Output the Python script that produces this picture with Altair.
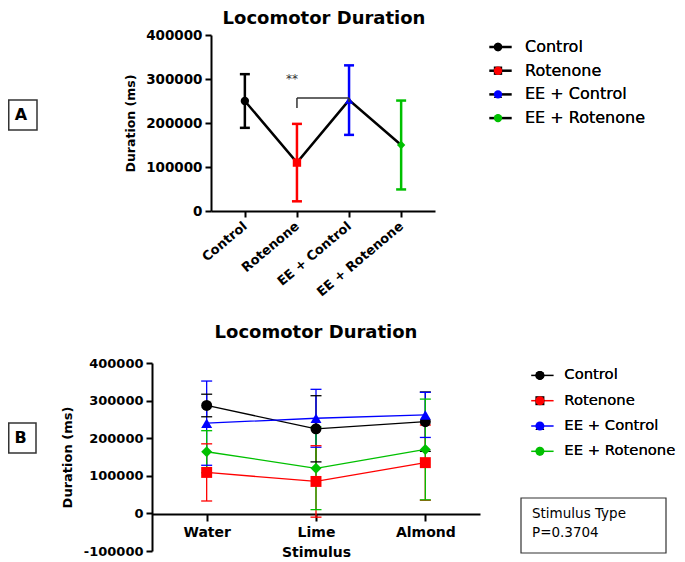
import altair as alt
import pandas as pd

FONT = "DejaVu Sans"

# ---------------- data ----------------
groups = ["Control", "Rotenone", "EE + Control", "EE + Rotenone"]
group_colors = ["#000000", "#ff0000", "#0000ff", "#00c000"]
group_shapes = ["circle", "square", "triangle-up", "diamond"]

# Panel A (overall)
a_mean = [250000, 110000, 252000, 150000]
a_low = [189000, 22000, 173000, 49000]
a_high = [311000, 198000, 331000, 251000]
a_point_size = [70, 70, 50, 40]

# significance bracket Rotenone vs EE + Control
sig_from = "Rotenone"
sig_to = "EE + Control"
sig_bar_y = 256800
sig_from_end = 234000
sig_to_end = 248000
sig_text = "**"
sig_text_y = 300000

# Panel B (by stimulus)
stimuli = ["Water", "Lime", "Almond"]
b_mean = {
    "Control": [287000, 225000, 244000],
    "Rotenone": [109000, 85000, 135000],
    "EE + Control": [240000, 253000, 262000],
    "EE + Rotenone": [164000, 120000, 170000],
}
b_low = {
    "Control": [257000, 137000, 165000],
    "Rotenone": [33000, -10000, 35000],
    "EE + Control": [128000, 176000, 202000],
    "EE + Rotenone": [108000, 10000, 36000],
}
b_high = {
    "Control": [317000, 313000, 323000],
    "Rotenone": [185000, 180000, 235000],
    "EE + Control": [352000, 330000, 322000],
    "EE + Rotenone": [220000, 230000, 304000],
}
b_point_size = [120, 120, 100, 60]

stats_lines = ["Stimulus Type", "P=0.3704"]
chart_title = "Locomotor Duration"

# ---------------- tables ----------------
dfa = pd.DataFrame({"group": groups, "gline": groups, "mean": a_mean, "low": a_low,
                    "high": a_high, "idx": list(range(len(groups)))})
rows = []
for g in groups:
    for i, s in enumerate(stimuli):
        rows.append({"group": g, "gline": g, "stim": s, "idx": i, "mean": b_mean[g][i],
                     "low": b_low[g][i], "high": b_high[g][i]})
dfb = pd.DataFrame(rows)
dfsig_h = pd.DataFrame({"a": [sig_from], "b": [sig_to], "y": [sig_bar_y]})
dfsig_v = pd.DataFrame({"g": [sig_from, sig_to], "y": [sig_bar_y, sig_bar_y],
                        "y2": [sig_from_end, sig_to_end]})
dfsig_t = pd.DataFrame({"g": [sig_from], "y": [sig_text_y], "t": [sig_text]})

W, H = 669, 554

# ---------------- panel A ----------------
A_X = [203, 427]
A_Y = [203, 27]
xa_axis = alt.Axis(orient="bottom", offset=A_Y[0] - H, title=None,
                   labelAngle=-40, labelAlign="right", labelBaseline="middle",
                   labelPadding=7, labelFont=FONT, labelFontSize=13,
                   labelFontWeight="bold", labelColor="black",
                   domainColor="black", domainWidth=2, tickColor="black",
                   tickWidth=2, tickSize=6, grid=False)
ya_axis = alt.Axis(orient="left", offset=-A_X[0], values=[0, 100000, 200000, 300000, 400000],
                   format="d", title="Duration (ms)", titleFont=FONT,
                   titleFontSize=12.5, titleFontWeight="bold", titleColor="black",
                   titlePadding=8, labelFont=FONT, labelFontSize=13.5,
                   labelFontWeight="bold", labelColor="black", labelPadding=3,
                   domainColor="black", domainWidth=2, tickColor="black",
                   tickWidth=2, tickSize=6, grid=False)
xa_scale = alt.Scale(type="point", domain=groups, range=A_X, padding=0.65)
ya_scale = alt.Scale(domain=[0, 400000], range=A_Y, nice=False, zero=False)
color_a = alt.Color("group:N", scale=alt.Scale(domain=groups, range=group_colors), legend=None)


def xa(field="group"):
    return alt.X(f"{field}:N", scale=xa_scale, axis=xa_axis)


def ya(field):
    return alt.Y(f"{field}:Q", scale=ya_scale, axis=ya_axis)


a_err = alt.Chart(dfa).mark_rule(strokeWidth=2.5, opacity=1).encode(
    x=xa(), y=ya("low"), y2="high", color=color_a)
a_cap_lo = alt.Chart(dfa).mark_tick(size=10, thickness=2.5, opacity=1).encode(
    x=xa(), y=ya("low"), color=color_a)
a_cap_hi = alt.Chart(dfa).mark_tick(size=10, thickness=2.5, opacity=1).encode(
    x=xa(), y=ya("high"), color=color_a)
a_line = alt.Chart(dfa).mark_line(color="black", strokeWidth=2.5).encode(
    x=xa(), y=ya("mean"), order="idx:Q")

LINE_SYMBOL = "M-5.6,0H5.6"
A_LEG_FONT, A_ROWPAD, A_LEGY = 16, 7.7, 31
a_leg_line = alt.Chart(dfa).mark_line(strokeWidth=2.5).encode(
    x=xa(), y=ya("mean"),
    stroke=alt.Stroke("gline:N", sort=groups, scale=alt.Scale(range=["black"] * 4),
                      legend=alt.Legend(orient="none", legendX=484.5, legendY=A_LEGY,
                                        title=None, symbolType=LINE_SYMBOL,
                                        symbolSize=16, symbolStrokeWidth=2.5,
                                        labelExpr="''", labelFont=FONT,
                                        labelFontSize=A_LEG_FONT, rowPadding=A_ROWPAD,
                                        padding=0, labelOffset=20)))
leg_a = alt.Legend(orient="none", legendX=482, legendY=A_LEGY, title=None,
                   symbolSize=70, symbolStrokeWidth=0, symbolOpacity=1,
                   labelFont=FONT, labelFontSize=A_LEG_FONT, labelColor="black",
                   labelOffset=19, rowPadding=A_ROWPAD, padding=0)
a_pts = alt.Chart(dfa).mark_point(filled=True, opacity=1).encode(
    x=xa(), y=ya("mean"),
    fill=alt.Fill("group:N", sort=groups, scale=alt.Scale(range=group_colors), legend=leg_a),
    shape=alt.Shape("group:N", sort=groups, scale=alt.Scale(range=group_shapes), legend=leg_a),
    size=alt.Size("group:N", scale=alt.Scale(domain=groups, range=a_point_size), legend=None))

a_sig_h = alt.Chart(dfsig_h).mark_rule(color="#333333", strokeWidth=1.5).encode(
    x=xa("a"), x2="b", y=ya("y"))
a_sig_v = alt.Chart(dfsig_v).mark_rule(color="#333333", strokeWidth=1.5).encode(
    x=xa("g"), y=ya("y"), y2="y2")
a_sig_t = alt.Chart(dfsig_t).mark_text(font=FONT, fontSize=12, color="#333333", dx=-5).encode(
    x=xa("g"), y=ya("y"), text="t:N")

panel_a = alt.layer(a_err, a_cap_lo, a_cap_hi, a_line, a_leg_line, a_pts,
                    a_sig_h, a_sig_v, a_sig_t)

# ---------------- panel B ----------------
B_X = [144, 472]
B_Y = [543, 355]
zero_y = 506
xb_axis = alt.Axis(orient="bottom", offset=zero_y - H, title="Stimulus",
                   titleFont=FONT, titleFontSize=14, titleFontWeight="bold",
                   titleColor="black", titlePadding=6,
                   labelAngle=0, labelPadding=4, labelFont=FONT, labelFontSize=14,
                   labelFontWeight="bold", labelColor="black",
                   domainColor="black", domainWidth=2, tickColor="black",
                   tickWidth=2, tickSize=7, grid=False)
yb_axis = alt.Axis(orient="left", offset=-B_X[0],
                   values=[-100000, 0, 100000, 200000, 300000, 400000],
                   labelExpr="datum.value < 0 ? '-' + format(-datum.value, 'd') : format(datum.value, 'd')",
                   title="Duration (ms)", titleFont=FONT, titleFontSize=13,
                   titleFontWeight="bold", titleColor="black", titlePadding=9,
                   labelFont=FONT, labelFontSize=13, labelFontWeight="bold",
                   labelColor="black", labelPadding=3,
                   domainColor="black", domainWidth=2, tickColor="black",
                   tickWidth=2, tickSize=6, grid=False)
xb_scale = alt.Scale(type="point", domain=stimuli, range=B_X, padding=0.5)
yb_scale = alt.Scale(domain=[-100000, 400000], range=B_Y, nice=False, zero=False)
color_b = alt.Color("group:N", scale=alt.Scale(domain=groups, range=group_colors), legend=None)


def xb():
    return alt.X("stim:N", scale=xb_scale, axis=xb_axis)


def yb(field):
    return alt.Y(f"{field}:Q", scale=yb_scale, axis=yb_axis)


B_LEG_FONT, B_ROWPAD, B_LEGY = 14.8, 9.3, 360
b_err = alt.Chart(dfb).mark_rule(strokeWidth=1.3, opacity=1).encode(
    x=xb(), y=yb("low"), y2="high", color=color_b)
b_cap_lo = alt.Chart(dfb).mark_tick(size=11, thickness=1.3, opacity=1).encode(
    x=xb(), y=yb("low"), color=color_b)
b_cap_hi = alt.Chart(dfb).mark_tick(size=11, thickness=1.3, opacity=1).encode(
    x=xb(), y=yb("high"), color=color_b)
b_line = alt.Chart(dfb).mark_line(strokeWidth=1.3).encode(
    x=xb(), y=yb("mean"), order="idx:Q",
    stroke=alt.Stroke("gline:N", sort=groups, scale=alt.Scale(range=group_colors),
                      legend=alt.Legend(orient="none", legendX=527, legendY=B_LEGY,
                                        title=None, symbolType=LINE_SYMBOL,
                                        symbolSize=16, symbolStrokeWidth=1.5,
                                        labelExpr="''", labelFont=FONT,
                                        labelFontSize=B_LEG_FONT, rowPadding=B_ROWPAD,
                                        padding=0, labelOffset=20)))
leg_b = alt.Legend(orient="none", legendX=524.5, legendY=B_LEGY, title=None,
                   symbolSize=81, symbolStrokeWidth=0, symbolOpacity=1,
                   labelFont=FONT, labelFontSize=B_LEG_FONT, labelColor="black",
                   labelOffset=17, rowPadding=B_ROWPAD, padding=0)
b_pts = alt.Chart(dfb).mark_point(filled=True, opacity=1).encode(
    x=xb(), y=yb("mean"),
    fill=alt.Fill("group:N", sort=groups, scale=alt.Scale(range=group_colors), legend=leg_b),
    shape=alt.Shape("group:N", sort=groups, scale=alt.Scale(range=group_shapes), legend=leg_b),
    size=alt.Size("group:N", scale=alt.Scale(domain=groups, range=b_point_size), legend=None))

panel_b = alt.layer(b_err, b_cap_lo, b_cap_hi, b_line, b_pts)

# ---------------- annotations ----------------
one = pd.DataFrame({"k": [0]})
title_a = alt.Chart(pd.DataFrame({"t": [chart_title]})).mark_text(
    font=FONT, fontSize=18, fontWeight="bold", color="black", baseline="alphabetic"
).encode(x=alt.value(316), y=alt.value(16), text="t:N")
title_b = alt.Chart(pd.DataFrame({"t": [chart_title]})).mark_text(
    font=FONT, fontSize=18, fontWeight="bold", color="black", baseline="alphabetic"
).encode(x=alt.value(308), y=alt.value(330), text="t:N")

box_a = alt.Chart(one).mark_rect(fill="white", stroke="#333333", strokeWidth=1.5).encode(
    x=alt.value(0.75), x2=alt.value(29), y=alt.value(92), y2=alt.value(122))
box_a_t = alt.Chart(pd.DataFrame({"t": ["A"]})).mark_text(
    font=FONT, fontSize=16, fontWeight="bold", color="black", baseline="middle"
).encode(x=alt.value(13), y=alt.value(107), text="t:N")
box_b = alt.Chart(one).mark_rect(fill="white", stroke="#333333", strokeWidth=1.5).encode(
    x=alt.value(0.75), x2=alt.value(28), y=alt.value(415), y2=alt.value(445))
box_b_t = alt.Chart(pd.DataFrame({"t": ["B"]})).mark_text(
    font=FONT, fontSize=16, fontWeight="bold", color="black", baseline="middle"
).encode(x=alt.value(12.5), y=alt.value(430), text="t:N")

stats_box = alt.Chart(one).mark_rect(fill="white", stroke="#333333", strokeWidth=1.2).encode(
    x=alt.value(513), x2=alt.value(658), y=alt.value(490), y2=alt.value(545))
stats_t1 = alt.Chart(pd.DataFrame({"t": [stats_lines[0]]})).mark_text(
    font=FONT, fontSize=13.5, color="black", align="left", baseline="alphabetic"
).encode(x=alt.value(524), y=alt.value(510), text="t:N")
stats_t2 = alt.Chart(pd.DataFrame({"t": [stats_lines[1]]})).mark_text(
    font=FONT, fontSize=13.5, color="black", align="left", baseline="alphabetic"
).encode(x=alt.value(524), y=alt.value(529), text="t:N")

chart = alt.layer(
    panel_a, panel_b, title_a, title_b, box_a, box_a_t, box_b, box_b_t,
    stats_box, stats_t1, stats_t2
).resolve_scale(
    x="independent", y="independent", color="independent", fill="independent",
    stroke="independent", shape="independent", size="independent"
).properties(
    width=W, height=H, padding=0, autosize=alt.AutoSizeParams(type="none")
).configure_view(stroke="transparent")

chart.save("out.html", embed_options={"renderer": "svg", "actions": False})
